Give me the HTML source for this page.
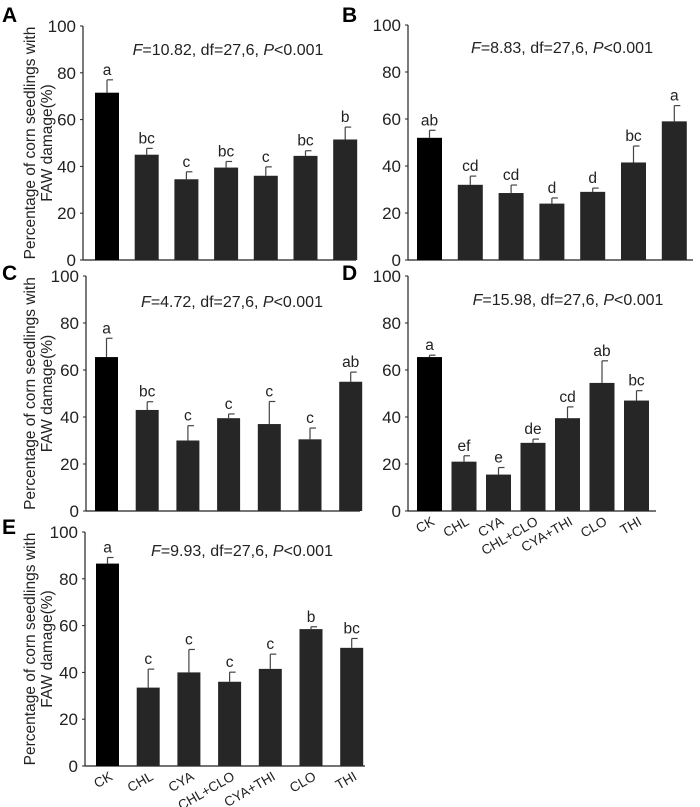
<!DOCTYPE html>
<html><head><meta charset="utf-8"><style>
html,body{margin:0;padding:0;background:#fff;width:700px;height:807px;overflow:hidden}
svg{display:block;font-family:"Liberation Sans",Arial,sans-serif}
</style></head><body>
<svg id="chart" width="700" height="807" viewBox="0 0 700 807"></svg>
<script>
const categories = ["CK","CHL","CYA","CHL+CLO","CYA+THI","CLO","THI"];
const yTicks = [0,20,40,60,80,100];
const valuesA = [71.5,45,34.5,39.5,36,44.5,51.5];
const errorsA = [5.5,2.7,3.2,2.6,3.8,2.2,5.3];
const lettersA = ["a","bc","c","bc","c","bc","b"];
const valuesB = [52,32,28.5,24,29,41.5,59];
const errorsB = [3.2,3.7,3.4,2.4,1.6,7,6.7];
const lettersB = ["ab","cd","cd","d","d","bc","a"];
const valuesC = [65.5,43,30,39.5,37,30.5,55];
const errorsC = [8,3.5,6.3,1.8,9.6,4.8,4.1];
const lettersC = ["a","bc","c","c","c","c","ab"];
const valuesD = [65.5,21,15.5,29,39.5,54.5,47];
const errorsD = [0.8,2.5,3,1.6,4.8,9.4,4.2];
const lettersD = ["a","ef","e","de","cd","ab","bc"];
const valuesE = [86.5,33.5,40,36,41.5,58.5,50.5];
const errorsE = [2.6,7.9,9.8,4.1,6.3,1,4];
const lettersE = ["a","c","c","c","c","b","bc"];
const statsF = ["10.82","8.83","4.72","15.98","9.93"];

const NS="http://www.w3.org/2000/svg";
const svg=document.getElementById('chart');
function mk(tag,attrs,parent,text){const e=document.createElementNS(NS,tag);for(const k in attrs)e.setAttribute(k,attrs[k]);if(text!==undefined)e.textContent=text;(parent||svg).appendChild(e);return e;}

const panels=[
 {id:"A",vals:valuesA,errs:errorsA,lets:lettersA,ax:83,y0:260,y100:26,fb:95,sp:39.7,bw:24,xe:356,title:true,cats:false,sx:228,sy:55,lx:2,ly:22},
 {id:"B",vals:valuesB,errs:errorsB,lets:lettersB,ax:408,y0:260,y100:25,fb:417,sp:40.8,bw:25,xe:693,title:false,cats:false,sx:562,sy:53,lx:342,ly:22},
 {id:"C",vals:valuesC,errs:errorsC,lets:lettersC,ax:86,y0:511,y100:276,fb:95,sp:40.7,bw:23,xe:360,title:true,cats:false,sx:232,sy:307,lx:2,ly:280},
 {id:"D",vals:valuesD,errs:errorsD,lets:lettersD,ax:408,y0:511,y100:276,fb:417,sp:34.5,bw:25,xe:656,title:false,cats:true,sx:568,sy:305,lx:342,ly:280},
 {id:"E",vals:valuesE,errs:errorsE,lets:lettersE,ax:85,y0:766,y100:532,fb:96,sp:40.7,bw:23,xe:365,title:true,cats:true,sx:242,sy:556,lx:2,ly:534}
];

panels.forEach((p,pi)=>{
 const g=mk('g',{});
 
 
 const y=v=>p.y0-(p.y0-p.y100)*v/100;
 const x=i=>p.fb+i*p.sp;
 const lab=mk('text',{x:p.lx,y:p.ly,'font-size':21,'font-weight':'bold'},g,p.id);
 
 
 const ya=mk('line',{x1:p.ax,y1:y(100),x2:p.ax,y2:p.y0,stroke:'#222','stroke-width':1.2},g);
 
 
 const xa=mk('line',{x1:p.ax,y1:p.y0,x2:p.xe,y2:p.y0,stroke:'#222','stroke-width':1.2},g);
 
 
 yTicks.forEach(t=>{
  mk('line',{x1:p.ax-3,y1:y(t),x2:p.ax,y2:y(t),stroke:'#222','stroke-width':1},g);
  const tl=mk('text',{x:p.ax-7,y:y(t)+6,'font-size':17,'text-anchor':'end',fill:'#222'},g,String(t));
  
  
 });
 if(p.title){
  const cy=(p.y0+y(100))/2;
  const t1=mk('text',{x:0,y:0,'font-size':15.5,'text-anchor':'middle',fill:'#222',transform:`translate(35,${cy}) rotate(-90)`},g,'Percentage of corn seedlings with');
  
  
  const t2=mk('text',{x:0,y:0,'font-size':15.5,'text-anchor':'middle',fill:'#222',transform:`translate(52,${cy}) rotate(-90)`},g,'FAW damage(%)');
  
  
 }
 const st=mk('text',{x:p.sx,y:p.sy,'font-size':16,'text-anchor':'middle',fill:'#222'},g);
 
 
 mk('tspan',{'font-style':'italic'},st,'F');
 mk('tspan',{},st,'='+statsF[pi]+', df=27,6, ');
 mk('tspan',{'font-style':'italic'},st,'P');
 mk('tspan',{},st,'<0.001');
 p.vals.forEach((v,i)=>{
  const bx=x(i), top=y(v), et=y(v+p.errs[i]), cx=bx+p.bw/2;
  const el=mk('line',{x1:cx,y1:top,x2:cx,y2:et,stroke:'#444','stroke-width':1.2},g);
  
  
  mk('line',{x1:cx,y1:et,x2:cx+6,y2:et,stroke:'#444','stroke-width':1.2},g);
  const r=mk('rect',{x:bx,y:top,width:p.bw,height:p.y0-top,fill:i===0?'#000':'#262626'},g);
  
  
  const lt=mk('text',{x:cx,y:et-5,'font-size':15.5,'text-anchor':'middle',fill:'#222'},g,p.lets[i]);
  
  
  if(p.cats){
   const cl=mk('text',{x:0,y:0,'font-size':13.5,'text-anchor':'end',fill:'#222',transform:`translate(${cx+6},${p.y0+13}) rotate(-30)`},g,categories[i]);
   
   
  }
 });
});
</script>
</body></html>
